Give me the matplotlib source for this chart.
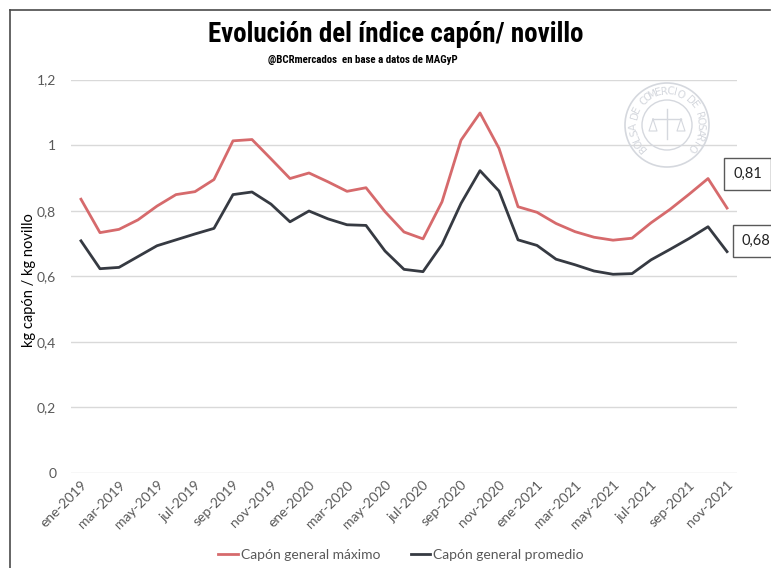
import numpy as np
import matplotlib
matplotlib.use("Agg")
import matplotlib.pyplot as plt
from matplotlib import font_manager
from matplotlib.lines import Line2D
from matplotlib.patches import Circle
from matplotlib.ticker import FuncFormatter


MONTHS = ["ene", "feb", "mar", "abr", "may", "jun", "jul", "ago", "sep", "oct", "nov", "dic"]
periods = [f"{m}-{y}" for y in (2019, 2020, 2021) for m in MONTHS][:35]

capon_maximo = [
    0.835, 0.733, 0.743, 0.772, 0.814, 0.849, 0.858, 0.895, 1.013, 1.017,
    0.958, 0.898, 0.915, 0.888, 0.859, 0.870, 0.797, 0.735, 0.714, 0.827,
    1.015, 1.098, 0.990, 0.812, 0.795, 0.761, 0.736, 0.719, 0.710, 0.716,
    0.763, 0.804, 0.850, 0.898, 0.808,
]
capon_promedio = [
    0.708, 0.623, 0.627, 0.660, 0.693, 0.711, 0.729, 0.746, 0.849, 0.857,
    0.820, 0.766, 0.799, 0.775, 0.757, 0.755, 0.677, 0.621, 0.614, 0.697,
    0.822, 0.922, 0.860, 0.711, 0.694, 0.652, 0.635, 0.616, 0.606, 0.608,
    0.650, 0.682, 0.715, 0.751, 0.675,
]
y_ticks = [0, 0.2, 0.4, 0.6, 0.8, 1.0, 1.2]

RED = "#D66A6C"
DARK = "#363A42"
GRID = "#D9D9D9"
TXT = "#595959"

plt.rcParams["font.family"] = ["Lato", "DejaVu Sans"]


def pick_narrow_font():
    names = {f.name for f in font_manager.fontManager.ttflist}
    for cand in ("Liberation Sans Narrow", "Roboto Condensed", "Open Sans Condensed",
                 "Noto Sans Condensed", "DejaVu Sans Condensed"):
        if cand in names:
            return cand
    return "Liberation Sans"


def comma(v, _pos=None):
    s = f"{v:.1f}".rstrip("0").rstrip(".")
    return s.replace(".", ",")


def fit_width(fig, txt, width_px):
    # shrink/grow the font until the text spans the wanted width
    r = fig.canvas.get_renderer()
    w = txt.get_window_extent(r).width
    txt.set_fontsize(txt.get_fontsize() * width_px / w)


NARROW = pick_narrow_font()

fig = plt.figure(figsize=(7.71, 5.68), dpi=100)
ax = fig.add_axes([0.0927, 0.1673, 0.8626, 0.6927])

x = np.arange(len(periods))
ax.plot(x, capon_maximo, color=RED, lw=2.0, label="Capón general máximo", zorder=3)
ax.plot(x, capon_promedio, color=DARK, lw=2.0, label="Capón general promedio", zorder=3)

ax.set_xlim(-0.5, len(periods) - 0.5)
ax.set_ylim(0, 1.2)
ax.set_yticks(y_ticks)
ax.yaxis.set_major_formatter(FuncFormatter(comma))
ax.set_xticks(x[::2])
ax.set_xticklabels(periods[::2], rotation=45, ha="right", rotation_mode="anchor")
ax.tick_params(axis="both", length=0, colors=TXT, labelsize=10)
ax.tick_params(axis="y", pad=11)
ax.tick_params(axis="x", pad=4)
ax.grid(axis="y", color=GRID, lw=1.0)
ax.set_axisbelow(True)
for side in ("top", "right", "left", "bottom"):
    ax.spines[side].set_visible(False)
ax.set_ylabel("kg capón / kg novillo", fontsize=10.5, color="black")
ax.yaxis.set_label_coords(-0.054, 0.49)

# last-value callouts
for val, ypix, xleft in ((capon_maximo[-1], 174, 724), (capon_promedio[-1], 241, 733)):
    fig.text((xleft + 9) / 771, 1 - ypix / 568, f"{val:.2f}".replace(".", ","),
             fontsize=10.5, color="#222222", va="center", ha="left",
             bbox=dict(boxstyle="square,pad=0.6", fc="white", ec="#595959", lw=1.0))

title = fig.text(0.5135, 1 - 35 / 568, "Evolución del índice capón/ novillo",
                 family=NARROW, weight="bold", fontsize=18.5, ha="center", va="center")
subtitle = fig.text(0.470, 1 - 60 / 568, "@BCRmercados  en base a datos de MAGyP",
                    family=NARROW, weight="bold", fontsize=9, ha="center", va="center")
fit_width(fig, title, 377)
fit_width(fig, subtitle, 191)

leg = fig.legend(loc="center", bbox_to_anchor=(0.52, 1 - 555 / 568), ncol=2, frameon=False,
                 fontsize=10, handlelength=1.4, handletextpad=0.2, columnspacing=2.2)
for t in leg.get_texts():
    t.set_color(TXT)

# seal watermark
cx, cy, r = 667 / 771, 1 - 125 / 568, 42
seal = "#D5D8DE"
sax = fig.add_axes([cx - 48 / 771, cy - 48 / 568, 96 / 771, 96 / 568])
sax.set_xlim(-48, 48)
sax.set_ylim(-48, 48)
sax.set_aspect("equal")
sax.axis("off")
sax.add_patch(Circle((0, 0), r, fill=False, ec=seal, lw=1.2))
sax.add_patch(Circle((0, 0), 25, fill=False, ec=seal, lw=1.0))
seal_text = "BOLSA DE COMERCIO DE ROSARIO"
angles = np.linspace(222, -42, len(seal_text))
for ch, a in zip(seal_text, angles):
    rad = np.deg2rad(a)
    sax.text(33.5 * np.cos(rad), 33.5 * np.sin(rad), ch, rotation=a - 90,
             ha="center", va="center", fontsize=7.5, color=seal, family="DejaVu Sans")
sax.plot([-14, 14], [6, 6], color=seal, lw=1)
sax.plot([0, 0], [-14, 16], color=seal, lw=1)
sax.plot([-14, -18, -10, -14], [6, -6, -6, 6], color=seal, lw=0.8)
sax.plot([14, 10, 18, 14], [6, -6, -6, 6], color=seal, lw=0.8)

# outer frame of the screenshot
fig.add_artist(Line2D([10 / 771, 770 / 771], [1 - 10 / 568, 1 - 10 / 568], color="#4a4a4a", lw=1.2))
fig.add_artist(Line2D([10 / 771, 10 / 771], [0, 1 - 10 / 568], color="#4a4a4a", lw=1.2))

fig.savefig("out.png", dpi=100)
